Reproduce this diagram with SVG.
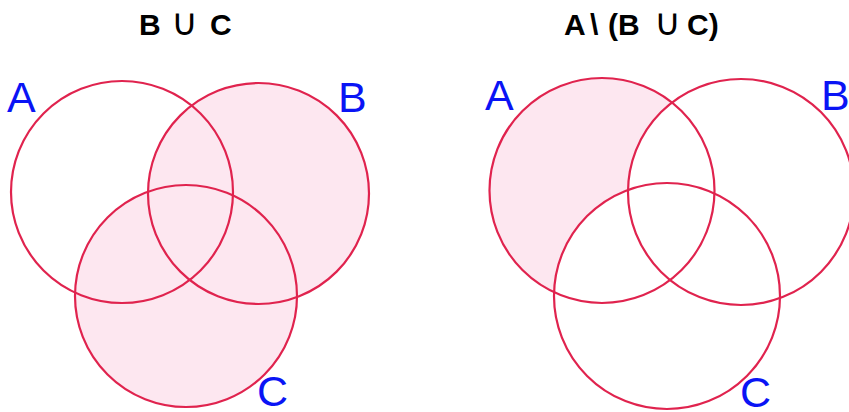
<svg xmlns="http://www.w3.org/2000/svg" width="849" height="412" viewBox="0 0 849 412">
<style>
.ring{fill:none;stroke:#e0234e;stroke-width:2.2}
.fill{fill:#fde7f0;stroke:none}
.lbl{font-family:"Liberation Sans",Arial,sans-serif;font-size:43px;fill:#0a14f5}
.title{font-family:"Liberation Sans",Arial,sans-serif;font-size:30px;font-weight:bold;fill:#000}
.cup{font-family:"DejaVu Sans",sans-serif;font-size:37px;font-weight:normal}
</style>
<defs>
<mask id="aOnly" maskUnits="userSpaceOnUse" x="0" y="0" width="849" height="412">
<circle cx="602" cy="190.5" r="112.5" fill="#fff"/>
<circle cx="741" cy="192" r="113" fill="#000"/>
<circle cx="667" cy="296" r="113" fill="#000"/>
</mask>
</defs>
<rect width="849" height="412" fill="#fff"/>
<g id="left">
<g id="left-fill">
<circle class="fill" cx="258.5" cy="193.5" r="110.5"/>
<circle class="fill" cx="186" cy="296" r="111"/>
</g>
<g id="left-A"><circle class="ring" cx="122" cy="192" r="111"/><text class="lbl" x="7" y="112">A</text></g>
<g id="left-B"><circle class="ring" cx="258.5" cy="193.5" r="110.5"/><text class="lbl" x="338" y="112">B</text></g>
<g id="left-C"><circle class="ring" cx="186" cy="296" r="111"/><text class="lbl" x="257" y="406">C</text></g>
<text id="left-title" class="title" x="139" y="35">B<tspan class="cup" x="171">∪</tspan><tspan x="210">C</tspan></text>
</g>
<g id="right">
<rect class="fill" x="480" y="70" width="250" height="240" mask="url(#aOnly)"/>
<g id="right-A"><circle class="ring" cx="602" cy="190.5" r="112.5"/><text class="lbl" x="485" y="110">A</text></g>
<g id="right-B"><circle class="ring" cx="741" cy="192" r="113"/><text class="lbl" x="821" y="110">B</text></g>
<g id="right-C"><circle class="ring" cx="667" cy="296" r="113"/><text class="lbl" x="740" y="407">C</text></g>
<text id="right-title" class="title" x="564" y="35">A<tspan x="590">\</tspan><tspan x="608">(B</tspan><tspan class="cup" x="654">∪</tspan><tspan x="687">C)</tspan></text>
</g>
</svg>
